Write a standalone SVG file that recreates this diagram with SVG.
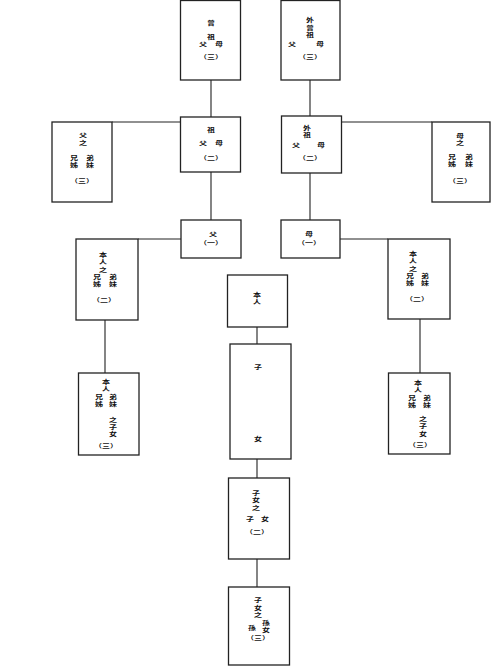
<svg xmlns="http://www.w3.org/2000/svg" width="492" height="666" viewBox="0 0 492 666">
<style>
.b{fill:#fff;stroke:#222;stroke-width:1.3}
.l{stroke:#222;stroke-width:1.1;fill:none}
text{font-family:"Noto Sans CJK TC","Noto Sans CJK SC",sans-serif;font-size:8px;font-weight:bold;fill:#111;text-anchor:middle;transform-box:fill-box;transform-origin:center;transform:scaleY(0.72)}
</style>
<rect width="492" height="666" fill="#fff"/>
<g id="connectors">
<path class="l" d="M211 80V117M310 80V116M112 122H180M342 122H432M211 172V220M310 173V220M138 239H181M340 239H388M105 320V373M420 319V373M257 327V344M257 459V478M257 559V587"/>
</g>
<g id="n1"><rect class="b" x="180.5" y="0.5" width="60" height="79.5"/>
<text x="211" y="26">曾</text><text x="211" y="40">祖</text><text x="203" y="47">父</text><text x="219" y="47">母</text><text x="211" y="60">（三）</text></g>
<g id="n2"><rect class="b" x="281" y="0.5" width="59" height="79.5"/>
<text x="310" y="23">外</text><text x="310" y="31">曾</text><text x="310" y="38">祖</text><text x="292" y="47">父</text><text x="320" y="47">母</text><text x="310" y="60">（三）</text></g>
<g id="n3"><rect class="b" x="52" y="122" width="60" height="80"/>
<text x="83" y="138">父</text><text x="83" y="146">之</text><text x="74" y="161">兄</text><text x="90" y="161">弟</text><text x="74" y="168">姊</text><text x="90" y="168">妹</text><text x="82" y="184">（三）</text></g>
<g id="n4"><rect class="b" x="180.5" y="117" width="60" height="55"/>
<text x="211" y="133">祖</text><text x="203" y="146">父</text><text x="219" y="146">母</text><text x="211" y="161">（二）</text></g>
<g id="n5"><rect class="b" x="281.5" y="116" width="60" height="57"/>
<text x="307" y="131">外</text><text x="307" y="138">祖</text><text x="296" y="148">父</text><text x="321" y="148">母</text><text x="310" y="161">（二）</text></g>
<g id="n6"><rect class="b" x="432" y="122" width="58" height="80"/>
<text x="460" y="139">母</text><text x="460" y="146">之</text><text x="452" y="160">兄</text><text x="469" y="160">弟</text><text x="452" y="167">姊</text><text x="469" y="167">妹</text><text x="460" y="184">（三）</text></g>
<g id="n7"><rect class="b" x="181" y="220" width="60" height="38"/>
<text x="213" y="237">父</text><text x="211" y="246">（一）</text></g>
<g id="n8"><rect class="b" x="281" y="220" width="59" height="38"/>
<text x="309" y="237">母</text><text x="309" y="246">（一）</text></g>
<g id="n9"><rect class="b" x="227.5" y="275" width="60" height="52"/>
<text x="257" y="298">本</text><text x="257" y="305">人</text></g>
<g id="n10"><rect class="b" x="76" y="239" width="62" height="81"/>
<text x="103" y="258">本</text><text x="103" y="265">人</text><text x="103" y="273">之</text><text x="97" y="280">兄</text><text x="113" y="280">弟</text><text x="97" y="287">姊</text><text x="113" y="287">妹</text><text x="104" y="303">（二）</text></g>
<g id="n11"><rect class="b" x="388" y="239" width="62" height="80"/>
<text x="413" y="257">本</text><text x="413" y="264">人</text><text x="413" y="272">之</text><text x="410" y="279">兄</text><text x="425" y="279">弟</text><text x="410" y="286">姊</text><text x="425" y="286">妹</text><text x="417" y="302">（二）</text></g>
<g id="n12"><rect class="b" x="78.5" y="373" width="60.5" height="82"/>
<text x="106" y="385">本</text><text x="106" y="392">人</text><text x="99" y="400">兄</text><text x="113" y="400">弟</text><text x="99" y="407">姊</text><text x="113" y="407">妹</text><text x="113" y="423">之</text><text x="113" y="430">子</text><text x="113" y="437">女</text><text x="106" y="449">（三）</text></g>
<g id="n13"><rect class="b" x="388.5" y="373" width="61.5" height="81"/>
<text x="418" y="386">本</text><text x="418" y="393">人</text><text x="412" y="401">兄</text><text x="427" y="401">弟</text><text x="412" y="408">姊</text><text x="427" y="408">妹</text><text x="423" y="422">之</text><text x="423" y="429">子</text><text x="423" y="437">女</text><text x="420" y="448">（三）</text></g>
<g id="n14"><rect class="b" x="230" y="344" width="61" height="115"/>
<text x="258" y="370">子</text><text x="258" y="442">女</text></g>
<g id="n15"><rect class="b" x="228.5" y="478" width="61" height="81"/>
<text x="256" y="496">子</text><text x="256" y="503">女</text><text x="256" y="511">之</text><text x="250" y="522">子</text><text x="265" y="522">女</text><text x="257" y="535">（二）</text></g>
<g id="n16"><rect class="b" x="228.5" y="587" width="61" height="78"/>
<text x="258" y="603">子</text><text x="258" y="611">女</text><text x="258" y="618">之</text><text x="252" y="631">孫</text><text x="266" y="626">孫</text><text x="266" y="633">女</text><text x="258" y="641">（三）</text></g>
</svg>
